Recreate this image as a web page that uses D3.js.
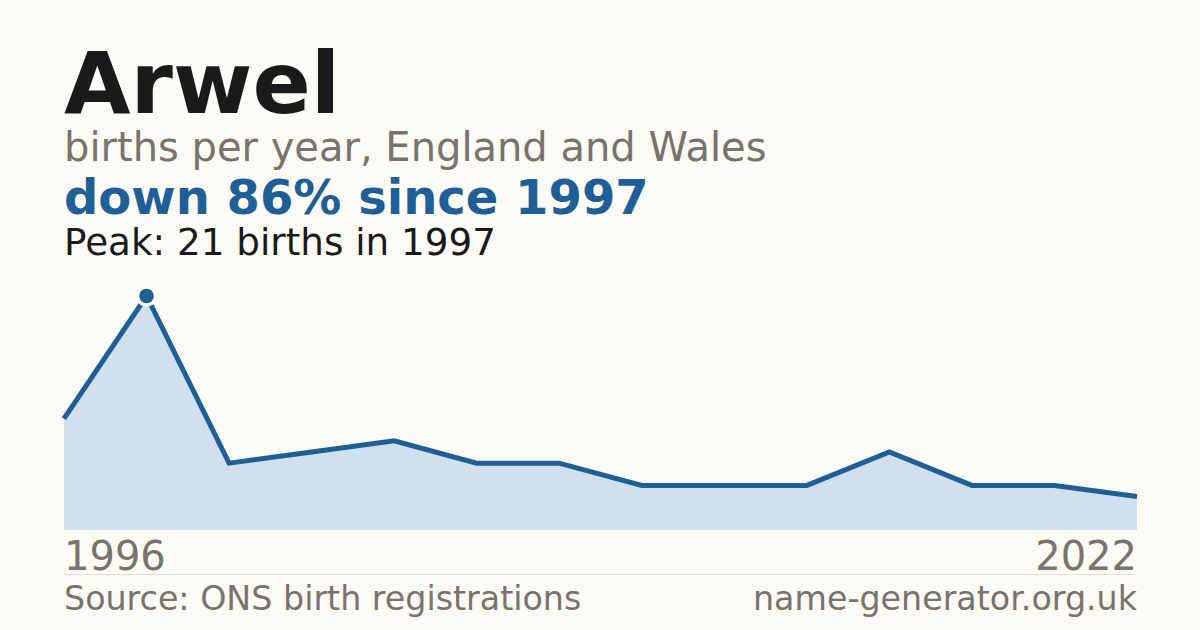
<!DOCTYPE html>
<html>
<head>
<meta charset="utf-8">
<script src="https://cdn.jsdelivr.net/npm/d3@7"></script>
<style>
  html, body { margin: 0; padding: 0; background: #fbfaf5; }
  svg { display: block; font-family: "DejaVu Sans", sans-serif; }
</style>
</head>
<body>
<div id="chart"></div>
<script>
// years with recorded births (only first and last are labelled)
var years = [1996, 1997, 1998, 2000, 2003, 2005, 2008, 2010, 2012, 2015, 2017, 2019, 2021, 2022];
var births = [10, 21, 6, 7, 8, 6, 6, 4, 4, 4, 7, 4, 4, 3];
var axisLabels = [1996, 2022];

var W = 1200, H = 630,
    plotLeft = 64, plotRight = 1137,
    plotTop = 296, plotBottom = 530;

var svg = d3.select('#chart').append('svg')
  .attr('width', W)
  .attr('height', H);

svg.append('rect').attr('width', W).attr('height', H).attr('fill', '#fbfaf5');

var x = d3.scalePoint()
  .domain(years)
  .range([plotLeft, plotRight]);

var y = d3.scaleLinear()
  .domain([0, d3.max(births)])
  .range([plotBottom, plotTop]);

var pts = years.map(function (yr, i) { return { year: yr, v: births[i] }; });

// area + line
svg.append('path')
  .datum(pts)
  .attr('fill', '#d0e0ef')
  .attr('d', d3.area()
    .x(function (d) { return x(d.year); })
    .y0(plotBottom)
    .y1(function (d) { return y(d.v); }));

svg.append('path')
  .datum(pts)
  .attr('fill', 'none')
  .attr('stroke', '#1f5f96')
  .attr('stroke-width', 5)
  .attr('stroke-linejoin', 'miter')
  .attr('d', d3.line()
    .x(function (d) { return x(d.year); })
    .y(function (d) { return y(d.v); }));

// peak marker
var peak = pts[d3.maxIndex(pts, function (d) { return d.v; })];
svg.append('circle')
  .attr('cx', x(peak.year))
  .attr('cy', y(peak.v))
  .attr('r', 9)
  .attr('fill', '#1f5f96')
  .attr('stroke', '#fbfaf5')
  .attr('stroke-width', 3.5);

// titles
svg.append('text').attr('x', 64).attr('y', 113)
  .attr('font-size', 86).attr('font-weight', 'bold').attr('fill', '#1a1a1a')
  .text('Arwel');
svg.append('text').attr('x', 64).attr('y', 161)
  .attr('font-size', 40).attr('fill', '#78736c')
  .text('births per year, England and Wales');

var last = pts[pts.length - 1];
var pct = Math.round((1 - last.v / peak.v) * 100);
svg.append('text').attr('x', 64).attr('y', 214)
  .attr('font-size', 48).attr('font-weight', 'bold').attr('fill', '#1f5f96')
  .text('down ' + pct + '% since ' + peak.year);
svg.append('text').attr('x', 64).attr('y', 255)
  .attr('font-size', 37.3).attr('fill', '#1a1a1a')
  .text('Peak: ' + peak.v + ' births in ' + peak.year);

// year labels
svg.selectAll('.yr')
  .data(axisLabels)
  .enter().append('text')
  .attr('class', 'yr')
  .attr('x', function (d) { return x(d); })
  .attr('y', 570)
  .attr('text-anchor', function (d, i) { return i === 0 ? 'start' : 'end'; })
  .attr('font-size', 40)
  .attr('fill', '#78736c')
  .text(function (d) { return d; });

// footer
svg.append('line')
  .attr('x1', plotLeft).attr('x2', plotRight)
  .attr('y1', 574.5).attr('y2', 574.5)
  .attr('stroke', '#e0ddd6').attr('stroke-width', 1);

svg.append('text').attr('x', 64).attr('y', 610)
  .attr('font-size', 33.3).attr('fill', '#78736c')
  .text('Source: ONS birth registrations');
svg.append('text').attr('x', plotRight).attr('y', 610)
  .attr('text-anchor', 'end')
  .attr('font-size', 33.3).attr('fill', '#78736c')
  .text('name-generator.org.uk');
</script>
</body>
</html>
